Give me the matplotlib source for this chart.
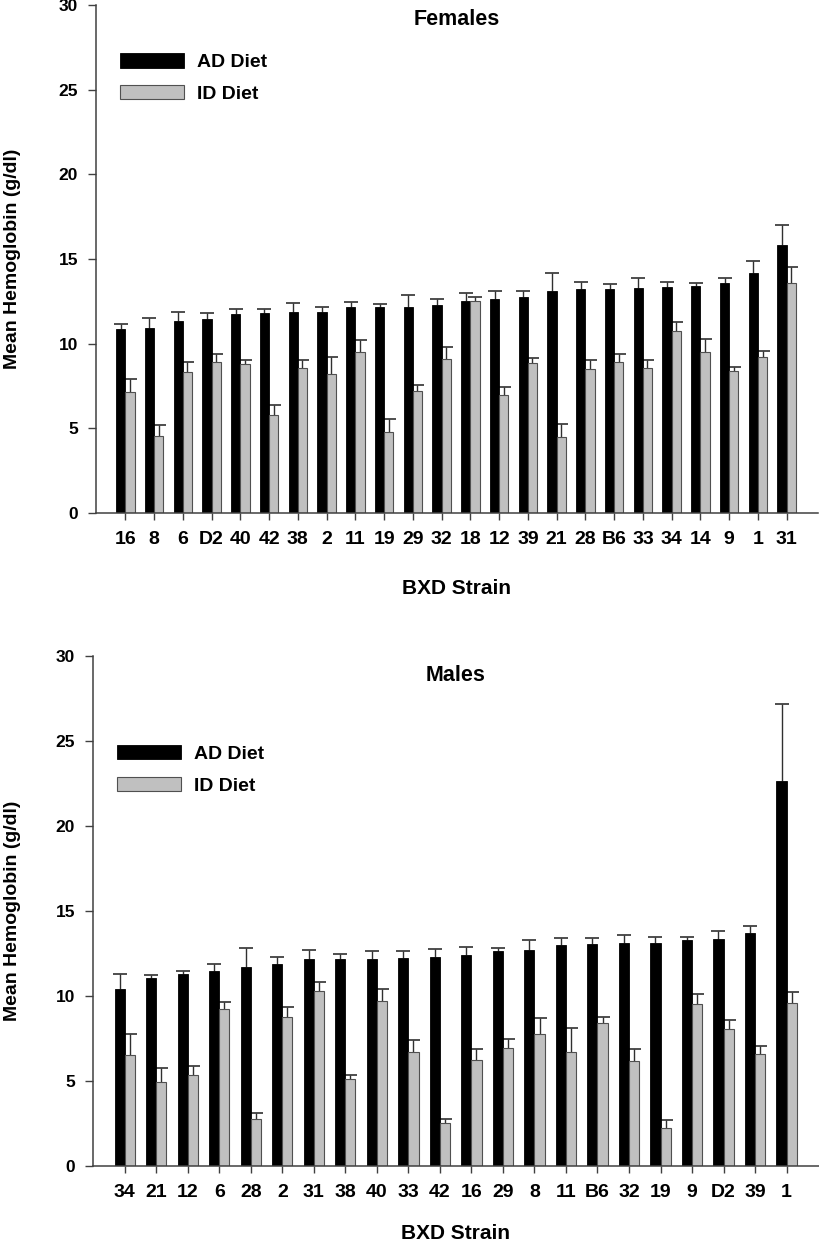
import numpy as np
import matplotlib
matplotlib.use('Agg')
import matplotlib.pyplot as plt
from matplotlib.patches import Patch

plt.rcParams['font.family'] = ['Liberation Sans', 'DejaVu Sans']
plt.rcParams['font.weight'] = 'bold'

# Females
strains_f = ['16', '8', '6', 'D2', '40', '42', '38', '2', '11', '19', '29', '32',
             '18', '12', '39', '21', '28', 'B6', '33', '34', '14', '9', '1', '31']
ad_f = [10.85, 10.94, 11.34, 11.47, 11.77, 11.83, 11.87, 11.89, 12.16, 12.16, 12.16, 12.30,
        12.54, 12.64, 12.76, 13.11, 13.21, 13.25, 13.29, 13.37, 13.39, 13.61, 14.18, 15.82]
ad_f_sem = [0.33, 0.57, 0.51, 0.32, 0.29, 0.23, 0.51, 0.27, 0.28, 0.18, 0.73, 0.36,
            0.43, 0.45, 0.35, 1.09, 0.42, 0.28, 0.57, 0.30, 0.22, 0.24, 0.69, 1.18]
id_f = [7.12, 4.55, 8.30, 8.89, 8.78, 5.76, 8.56, 8.18, 9.49, 4.77, 7.21, 9.09,
        12.54, 6.96, 8.87, 4.51, 8.52, 8.93, 8.56, 10.77, 9.50, 8.36, 9.19, 13.61]
id_f_sem = [0.81, 0.62, 0.59, 0.51, 0.27, 0.63, 0.47, 1.05, 0.71, 0.81, 0.36, 0.73,
            0.20, 0.49, 0.30, 0.73, 0.49, 0.48, 0.47, 0.49, 0.79, 0.26, 0.35, 0.92]

# Males
strains_m = ['34', '21', '12', '6', '28', '2', '31', '38', '40', '33', '42',
             '16', '29', '8', '11', 'B6', '32', '19', '9', 'D2', '39', '1']
ad_m = [10.44, 11.03, 11.28, 11.47, 11.72, 11.91, 12.20, 12.20, 12.20, 12.25, 12.31,
        12.43, 12.62, 12.71, 13.00, 13.07, 13.09, 13.13, 13.28, 13.38, 13.70, 22.64]
ad_m_sem = [0.84, 0.21, 0.19, 0.44, 1.13, 0.38, 0.53, 0.28, 0.42, 0.37, 0.46,
            0.44, 0.23, 0.57, 0.44, 0.33, 0.52, 0.35, 0.20, 0.42, 0.43, 4.56]
id_m = [6.53, 4.94, 5.36, 9.24, 2.75, 8.78, 10.31, 5.10, 9.72, 6.68, 2.54,
        6.22, 6.95, 7.77, 6.72, 8.40, 6.20, 2.23, 9.51, 8.05, 6.57, 9.58]
id_m_sem = [1.24, 0.84, 0.52, 0.40, 0.36, 0.57, 0.53, 0.26, 0.70, 0.73, 0.23,
            0.67, 0.55, 0.91, 1.39, 0.36, 0.69, 0.46, 0.59, 0.52, 0.47, 0.67]

yticks = [0, 5, 10, 15, 20, 25, 30]

AD_COLOR = 'black'
ID_COLOR = '#c0c0c0'
LINE_COLOR = '#404040'

fig = plt.figure(figsize=(8.2, 12.45), dpi=100)
ax1 = fig.add_axes([96/820, 1-513/1245, 722/820, 508/1245])
ax2 = fig.add_axes([93/820, 1-1166/1245, 726/820, 510/1245])


def up_errbar(ax, x, y, err):
    eb = ax.errorbar(x, y, yerr=[np.zeros(len(err)), err], fmt='none',
                     ecolor='#303030', elinewidth=1, capsize=5, capthick=1.2, zorder=1)
    # only the upper cap is shown
    eb[1][0].set_visible(False)


def panel(ax, strains, ad, ad_sem, idd, id_sem, title, title_y, leg_y, xlab_y):
    x = np.arange(len(strains))
    w = 0.32
    ax.bar(x - w/2, ad, w, color=AD_COLOR, edgecolor='black', linewidth=0.6, zorder=2)
    ax.bar(x + w/2, idd, w, color=ID_COLOR, edgecolor='#505050', linewidth=0.8, zorder=2)
    up_errbar(ax, x - w/2, ad, ad_sem)
    up_errbar(ax, x + w/2, idd, id_sem)

    ax.set_ylim(0, 30)
    ax.set_yticks(yticks)
    ax.set_xticks(x)
    ax.set_xticklabels(strains, fontsize=14, fontweight='bold')
    ax.tick_params(axis='y', labelsize=12.5, length=6, width=1, color=LINE_COLOR, pad=7)
    ax.tick_params(axis='x', length=5, width=1, color=LINE_COLOR, pad=8)
    for lab in ax.get_yticklabels():
        lab.set_fontweight('bold')
    for s in ['top', 'right']:
        ax.spines[s].set_visible(False)
    for s in ['left', 'bottom']:
        ax.spines[s].set_color(LINE_COLOR)
        ax.spines[s].set_linewidth(1.1)

    ax.set_xlabel('BXD Strain', fontsize=15, fontweight='bold')
    ax.xaxis.set_label_coords(0.5, xlab_y)
    ax.xaxis.label.set_va('top')
    ax.set_ylabel('Mean Hemoglobin (g/dl)', fontsize=14, fontweight='bold')

    ax.text(0.5, title_y, title, transform=ax.transAxes, ha='center', va='center',
            fontsize=15.5, fontweight='bold')

    handles = [Patch(facecolor=AD_COLOR, edgecolor='black', linewidth=0.6),
               Patch(facecolor=ID_COLOR, edgecolor='#505050', linewidth=0.8)]
    ax.legend(handles, ['AD Diet', 'ID Diet'], loc='upper left',
              bbox_to_anchor=(0.033, leg_y), frameon=False, borderpad=0,
              borderaxespad=0, handlelength=3.3, handleheight=0.75,
              handletextpad=0.65, labelspacing=0.7,
              prop={'size': 14, 'weight': 'bold'})


panel(ax1, strains_f, ad_f, ad_f_sem, id_f, id_f_sem, 'Females', 0.972, 0.905, -0.130)
ax1.set_xlim(-1.02, 24.09)
ax1.yaxis.set_label_coords(-0.104, 0.5)

panel(ax2, strains_m, ad_m, ad_m_sem, id_m, id_m_sem, 'Males', 0.961, 0.825, -0.114)
ax2.set_xlim(-1.01, 22.03)
ax2.yaxis.set_label_coords(-0.099, 0.5)

fig.savefig('out.png', dpi=100)
